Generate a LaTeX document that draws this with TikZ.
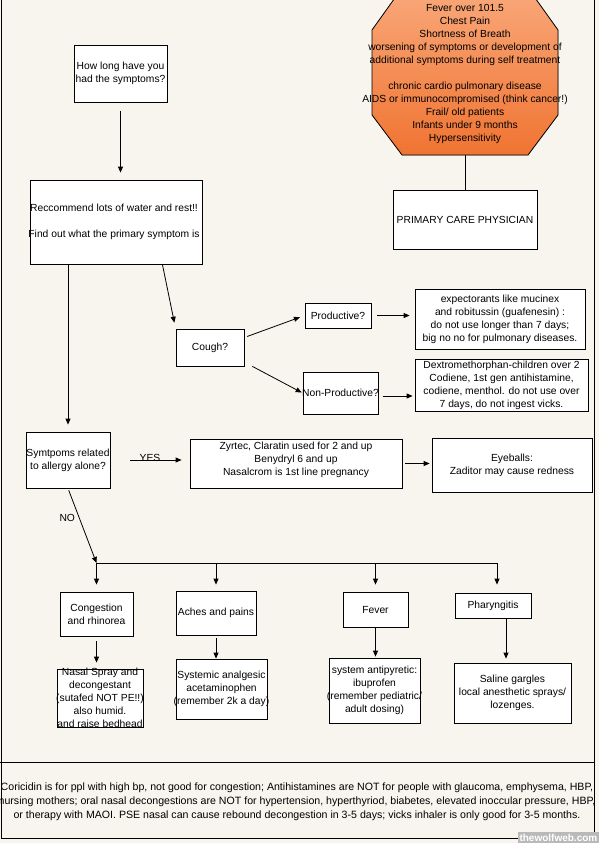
\documentclass[tikz,border=0pt]{standalone}
\usepackage{fontspec}
\setmainfont{Liberation Sans}
\usetikzlibrary{arrows.meta}

\definecolor{paper}{RGB}{248,245,238}
\definecolor{octtop}{RGB}{249,168,122}
\definecolor{octlow}{RGB}{240,116,50}
\newcommand\boxfont{\fontsize{10.3}{13}\selectfont}

\tikzset{
    box/.style={draw, fill=white, line width=0.8pt, inner sep=0pt},
    txt/.style={align=center, font=\boxfont, inner sep=0pt},
    wire/.style={line width=0.8pt},
    arr/.style={wire, -{Triangle[length=6pt,width=5pt]}}
}

\begin{document}
\begin{tikzpicture}[x=1pt, y=-1pt]
    \useasboundingbox (0,0) rectangle (599,843);
    \fill[paper] (0,0) rectangle (599,843);
    % frame and footer
    \draw[wire] (1,0) -- (1,838) -- (594.5,838) -- (594.5,0);
    \draw[wire] (0,762) -- (594.5,762);

    % stop sign
    \filldraw[wire, draw=black, top color=octtop, bottom color=octlow]
        (402,-12) -- (528,-12) -- (558,30) -- (558,115) -- (528,155) -- (402,155) -- (372,115) -- (372,30) -- cycle;
    \node[txt] (warn) at (465,74) {Fever over 101.5\\Chest Pain\\Shortness of Breath\\worsening of symptoms or development of\\additional symptoms during self treatment\\[13pt]chronic cardio pulmonary disease\\AIDS or immunocompromised (think cancer!)\\Frail/ old patients\\Infants under 9 months\\Hypersensitivity};
    \coordinate (octbot) at (465,155);
    \node[box, minimum width=144pt, minimum height=59pt, label={[txt]center:PRIMARY CARE PHYSICIAN}] (pcp) at (465,219.5) {};
    \draw[wire] (octbot) -- (pcp);

    % first questions
    \node[box, minimum width=93pt, minimum height=57pt, label={[txt]center:{How long have you\\had the symptoms?}}] (howlong) at (120.5,73.5) {};
    \node[box, minimum width=172pt, minimum height=84pt, label={[txt, xshift=-2pt]center:{Reccommend lots of water and rest!!\\[13pt]Find out what the primary symptom is}}] (recommend) at (116,222) {};

    % cough branch
    \node[box, minimum width=68pt, minimum height=37pt, label={[txt]center:Cough?}] (cough) at (210,347.5) {};
    \node[box, minimum width=66pt, minimum height=25pt, label={[txt]center:Productive?}] (prod) at (338,315.5) {};
    \node[box, minimum width=75pt, minimum height=42pt, label={[txt]center:Non-Productive?}] (nonprod) at (340.5,393) {};
    \node[box, minimum width=170pt, minimum height=60pt, label={[txt]center:{expectorants like mucinex\\and robitussin (guafenesin) :\\do not use longer than 7 days;\\big no no for pulmonary diseases.}}] (expect) at (500,319) {};
    \node[box, minimum width=173pt, minimum height=52pt, label={[txt]center:{Dextromethorphan-children over 2\\Codiene, 1st gen antihistamine,\\codiene, menthol. do not use over\\7 days, do not ingest vicks.}}] (dextro) at (501.5,385) {};

    % allergy branch
    \node[box, minimum width=84pt, minimum height=56pt, label={[txt]center:{Symtpoms related\\to allergy alone?}}] (allergy) at (68,460) {};
    \node[box, minimum width=212pt, minimum height=49pt, label={[txt, yshift=4pt]center:{Zyrtec, Claratin used for 2 and up\\Benydryl 6 and up\\Nasalcrom is 1st line pregnancy}}] (zyrtec) at (296,463.5) {};
    \node[box, minimum width=160pt, minimum height=54pt, label={[txt]center:{Eyeballs:\\Zaditor may cause redness}}] (eyeballs) at (512,465) {};

    % symptoms
    \node[box, minimum width=73pt, minimum height=44pt, label={[txt]center:{Congestion\\and rhinorea}}] (cong) at (96.5,614) {};
    \node[box, minimum width=80pt, minimum height=44pt, label={[txt]center:Aches and pains}] (aches) at (216,613) {};
    \node[box, minimum width=65pt, minimum height=35pt, label={[txt]center:Fever}] (fever) at (375.5,609.5) {};
    \node[box, minimum width=76pt, minimum height=25pt, label={[txt]center:Pharyngitis}] (phar) at (493,605.5) {};
    \node[box, minimum width=86pt, minimum height=58pt, label={[txt]center:{Nasal Spray and\\decongestant\\(sutafed NOT PE!!)\\also humid.\\and raise bedhead}}] (nasal) at (100,698) {};
    \node[box, minimum width=91pt, minimum height=60pt, label={[txt]center:{Systemic analgesic\\acetaminophen\\(remember 2k a day)}}] (systemic) at (221.5,689) {};
    \node[box, minimum width=91pt, minimum height=65pt, label={[txt]center:{system antipyretic:\\ibuprofen\\(remember pediatric/\\adult dosing)}}] (feverres) at (374.5,690.5) {};
    \node[box, minimum width=117pt, minimum height=60pt, label={[txt]center:{Saline gargles\\local anesthetic sprays/\\lozenges.}}] (saline) at (512.5,693) {};

    % connectors
    \draw[arr, shorten <=9pt, shorten >=7pt] (howlong.south) -- (howlong.south |- recommend.north);
    \draw[arr, shorten >=7pt] (allergy.north |- recommend.south) -- (allergy.north);
    \draw[arr, shorten >=6pt] ([xshift=-40pt]recommend.south east) -- (cough.north west);
    \draw[arr, shorten <=3pt, shorten >=5pt] ([yshift=10pt]cough.east) -- (prod.west);
    \draw[arr, shorten >=1pt] ([xshift=8pt]cough.south east) -- (nonprod.west);
    \draw[arr, shorten <=6pt, shorten >=5pt] (prod.east) -- (prod.east -| expect.west);
    \draw[arr, shorten <=5pt, shorten >=2pt] ([yshift=-3pt]nonprod.east) -- ([yshift=-3pt]nonprod.east -| dextro.west);
    \draw[arr, shorten <=20pt, shorten >=8pt] (allergy.east) -- (allergy.east -| zyrtec.west)
        node[txt, midway, anchor=base, yshift=-1pt] {YES};
    \draw[arr, shorten <=3pt, shorten >=2pt] (zyrtec.east) -- (zyrtec.east -| eyeballs.west);

    \coordinate (busl) at (96.5,563);
    \coordinate (busr) at (497,563);
    \draw[arr, shorten <=2pt] (allergy.south) -- (busl)
        node[txt, pos=0.4, left=4pt] {NO};
    \draw[wire] (busl) -- (busr);
    \draw[arr, shorten >=7pt] (busl) -- (cong.north);
    \draw[arr, shorten >=6pt] (aches.north |- busl) -- (aches.north);
    \draw[arr, shorten >=7pt] (fever.north |- busl) -- (fever.north);
    \draw[arr, shorten >=8pt] (busr) -- (busr |- phar.north);

    \draw[arr, shorten <=5pt, shorten >=6pt] (cong.south) -- (cong.south |- nasal.north);
    \draw[arr, shorten <=3pt] (aches.south) -- (aches.south |- systemic.north);
    \draw[arr, shorten >=1pt] (fever.south) -- (fever.south |- feverres.north);
    \draw[arr, shorten >=4pt] ([xshift=13pt]phar.south) -- ([xshift=13pt]phar.south |- saline.north);

    % footer note
    \node[txt, font=\fontsize{10.6}{14}\selectfont] (note) at (297,802) {Coricidin is for ppl with high bp, not good for congestion; Antihistamines are NOT for people with glaucoma, emphysema, HBP,\\nursing mothers; oral nasal decongestions are NOT for hypertension, hyperthyriod, biabetes, elevated inoccular pressure, HBP,\\or therapy with MAOI. PSE nasal can cause rebound decongestion in 3-5 days; vicks inhaler is only good for 3-5 months.};
    \node[fill=gray!55, text=white, font=\bfseries\fontsize{10}{10}\selectfont, inner sep=1.5pt, anchor=south east] (mark) at (599,843) {thewolfweb.com};
\end{tikzpicture}
\end{document}
